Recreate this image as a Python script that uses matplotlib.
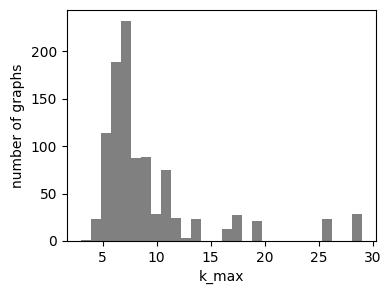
import numpy as np
import matplotlib
matplotlib.use("Agg")
import matplotlib.pyplot as plt

# histogram: 28 equal bins from 3 to 29
bin_start = 3
bin_end = 29
n_bins = 28
counts = [1, 23, 114, 189, 232, 88, 89, 29, 75, 24, 3, 23,
          0, 0, 13, 27, 0, 21, 0, 0, 0, 0, 0, 0, 23, 0, 0, 28]

edges = np.linspace(bin_start, bin_end, n_bins + 1)

fig = plt.figure(figsize=(3.91, 2.94), dpi=100)
ax = fig.add_axes([67/391, 1-241/294, (376-67)/391, (241-10)/294])
ax.hist(edges[:-1], bins=edges, weights=counts, color="gray")
ax.set_xlabel("k_max")
ax.set_ylabel("number of graphs")
ax.set_xticks([5, 10, 15, 20, 25, 30])
ax.set_yticks([0, 50, 100, 150, 200])
fig.savefig("out.png", dpi=100)
